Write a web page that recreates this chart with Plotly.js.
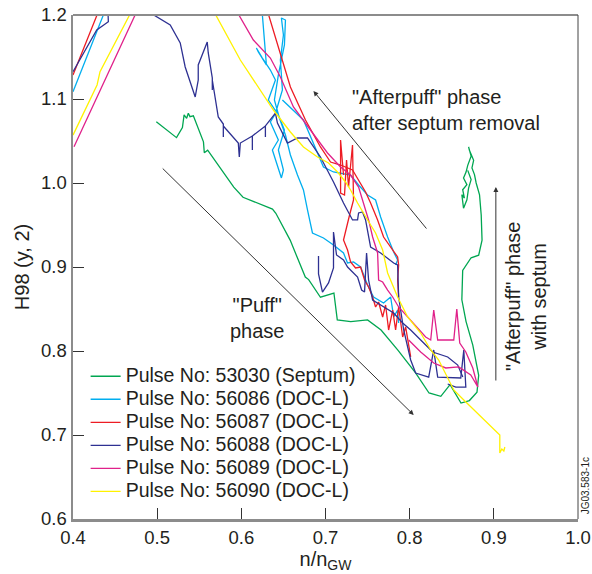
<!DOCTYPE html>
<html>
<head>
<meta charset="utf-8">
<script src="https://cdn.plot.ly/plotly-3.0.1.min.js"></script>
<style>html,body{margin:0;padding:0;background:#fff;}#chart{width:592px;height:574px;}</style>
</head>
<body>
<div id="chart"></div>
<script>
// Legend labels
const seriesNames = [
  "Pulse No: 53030 (Septum)",
  "Pulse No: 56086 (DOC-L)",
  "Pulse No: 56087 (DOC-L)",
  "Pulse No: 56088 (DOC-L)",
  "Pulse No: 56089 (DOC-L)",
  "Pulse No: 56090 (DOC-L)"
];
const seriesColors = ["#00a651", "#00aeef", "#ed1c24", "#2e3192", "#e0218a", "#fff200"];

// Pulse 53030 (Septum)
const p53030_x = [0.499,0.523,0.530,0.532,0.535,0.537,0.539,0.543,0.555,0.556,0.560,0.591,0.602,0.637,0.641,0.658,0.676,0.680,0.694,0.710,0.714,0.730,0.750,0.766,0.786,0.807,0.823,0.837,0.848,0.861,0.871,0.880,0.882,0.875,0.867,0.862,0.863,0.873,0.882,0.886,0.885,0.883,0.879,0.877,0.874,0.876,0.871,0.870,0.873,0.869,0.867,0.864,0.868,0.863,0.865,0.862,0.864,0.868,0.870,0.873,0.869];
const p53030_y = [1.073,1.054,1.066,1.081,1.077,1.083,1.079,1.080,1.049,1.036,1.039,0.995,0.983,0.969,0.964,0.932,0.888,0.885,0.864,0.869,0.837,0.835,0.837,0.825,0.801,0.774,0.750,0.746,0.760,0.738,0.741,0.751,0.771,0.807,0.835,0.861,0.896,0.911,0.914,0.932,0.962,0.986,1.000,1.010,1.018,1.027,1.039,1.043,1.032,1.021,1.013,1.006,0.998,0.992,0.982,0.986,0.970,0.980,0.994,1.004,1.015];

// Pulse 56086
const p56086_x = [0.4,0.4361,0.4417,null,0.625,0.625,0.6274,0.6298,0.6202,0.6179,0.625,0.6345,0.6405,0.6321,0.6417,0.6345,0.644,0.6369,0.6476,0.65,0.644,0.6512,0.6417,0.6488,0.6464,0.65,0.6476,0.6524,0.6512,0.644,0.6393,0.6452,0.6524,0.6583,0.6667,0.6738,0.6786,0.6845,0.6976,0.7095,0.7214,0.7262,0.7333,0.7417,0.75,0.7571,0.769,0.7774,0.781,0.7857,0.7869,null,0.6488,0.6738,0.6976,0.7095,0.7298,0.7393,0.75,0.7595,0.7655,0.7738,0.781,0.7857,0.7833];
const p56086_y = [1.1087,1.2,1.2143,null,1.206,1.2,1.1702,1.1405,1.156,1.1607,1.1488,1.1345,1.1226,1.0988,1.0845,1.0726,1.0512,1.0393,1.006,1.0155,1.0393,1.0631,1.0869,1.1107,1.1464,1.1762,1.1964,1.194,1.1643,1.1286,1.0988,1.0774,1.0571,1.0333,1.0095,0.9917,0.9679,0.9405,0.9345,0.9262,0.9167,0.9048,0.906,0.9,0.8786,0.8643,0.8571,0.8643,0.8405,0.8488,0.8333,null,1.0988,1.075,1.019,1.0131,1.0095,0.9976,0.9857,0.9798,0.9595,0.9357,0.9179,0.9083,0.9024];

// Pulse 56087
const p56087_x = [0.4,0.4286,0.4357,0.53,0.6298,0.6321,0.6464,0.6583,0.6762,0.694,0.706,0.7179,0.7321,0.7393,0.7476,0.7536,0.7619,0.769,0.7774,0.7857,0.7869,0.7857,0.7869,null,0.7214,0.7179,0.7179,0.7226,0.725,0.7274,0.7321,0.7333,0.7286,0.7238,0.7214,0.7262,0.7298,0.7357,0.7417,0.7464,0.7512,0.756,0.7595,0.7631,0.7679,0.7714,0.775,0.7798,0.7833,0.7869,0.7917,0.7952,0.7988,0.8012];
const p56087_y = [1.1286,1.2,1.2179,1.4,1.2095,1.2012,1.1548,1.1143,1.075,1.0429,1.025,1.0214,1.0155,1.0036,0.9893,0.9762,0.956,0.9357,0.9238,0.9119,0.9024,0.8845,0.8643,null,1.0095,1.0512,0.9881,0.9857,1.0274,0.9952,1.0452,0.9798,0.9619,0.944,0.9321,0.9202,0.906,0.8988,0.9,0.8845,0.8762,0.8643,0.8524,0.8583,0.8405,0.8548,0.825,0.8488,0.825,0.8524,0.8167,0.8286,0.8048,0.7929];

// Pulse 56088
const p56088_x = [0.4,0.4282,0.442,0.4417,0.4429,0.47,0.4917,0.494,0.5155,0.5274,0.5333,0.5452,0.5488,0.5488,0.5595,0.5607,0.5655,0.5655,0.5655,0.5726,0.5786,0.5786,0.5786,0.5964,0.5976,0.5988,0.6131,0.6131,0.6131,0.6286,0.6286,0.6286,0.6405,0.6429,0.6548,0.6667,0.6786,0.694,0.7095,0.7214,0.7321,0.7381,0.7393,0.744,0.7476,0.7512,0.7536,0.7655,0.781,0.7857,0.7869,0.7929,0.8012,0.8071,0.8226,0.8286,0.8333,0.8607,0.8643,0.8667,0.8548,0.8452,null,0.6917,0.6917,0.6964,0.7036,0.7095,0.7095,0.7131,0.7214,0.7262,0.7381,0.7429,0.7464,0.7488,0.7512,0.756,0.769,0.781,0.7917,0.8012,0.8167,0.8274,0.8452,0.8571,0.8631];
const p56088_y = [1.1325,1.1821,1.192,1.2,1.2119,1.28,1.2083,1.2012,1.1881,1.1667,1.1381,1.1024,1.1226,1.1405,1.1679,1.1548,1.125,1.1107,1.1226,1.0786,1.0702,1.0548,1.0679,1.0476,1.031,1.0476,1.056,1.0393,1.056,1.0679,1.0548,1.0679,1.0833,1.0714,1.0476,1.0536,1.0536,1.031,1.0012,0.9762,0.956,0.956,0.9643,0.9655,0.956,0.9357,0.9238,0.9167,0.9048,0.9024,0.8643,0.825,0.7893,0.7738,0.769,0.8012,0.769,0.7679,0.8012,0.7571,0.7571,0.7607,null,0.9131,0.8917,0.8702,0.881,0.8988,0.9417,0.9143,0.9083,0.9,0.8881,0.8726,0.8702,0.9167,0.8845,0.8607,0.8524,0.8452,0.8333,0.825,0.8095,0.7988,0.7929,0.7833,0.769];

// Pulse 56089
const p56089_x = [0.4012,0.4738,0.4798,0.53,0.593,0.5964,0.6143,0.6345,0.6464,0.6619,0.6821,0.7024,0.7179,0.7298,0.7393,0.7452,0.7512,0.756,0.7619,0.7631,0.7679,0.7738,0.7798,0.7869,0.7976,0.8095,0.819,0.825,0.8286,0.8333,0.8524,0.856,0.8595,0.8667,0.875,0.881,0.8726,0.8583,0.8429,0.8286,0.8131,0.7988];
const p56089_y = [1.0432,1.2,1.213,1.35,1.21,1.2012,1.1702,1.1488,1.1262,1.0905,1.0631,1.0357,1.019,1.0095,0.9952,0.9762,0.956,0.9357,0.9167,0.8845,0.8821,0.8726,0.8643,0.8524,0.8405,0.8286,0.8167,0.8131,0.8488,0.8131,0.8131,0.85,0.8095,0.7988,0.7798,0.7571,0.7714,0.781,0.7798,0.7857,0.7988,0.8131];

// Pulse 56090
const p56090_x = [0.400,0.4286,0.4321,0.4679,0.475,0.52,0.566,0.569,0.5988,0.6143,0.6381,0.6583,0.6738,0.6905,0.7036,0.7143,0.7238,0.7298,0.7381,0.750,0.7595,0.7679,0.7738,0.7857,0.7976,0.8131,0.825,0.8345,0.8524,0.8643,0.9071,0.9071,0.9095,0.9119,0.9131];
const p56090_y = [1.057,1.1167,1.1325,1.2,1.215,1.35,1.21,1.2012,1.1464,1.1226,1.0869,1.0607,1.0429,1.031,1.0238,1.0131,1.0012,0.9917,0.9762,0.956,0.9405,0.9202,0.8929,0.8643,0.8405,0.8214,0.8012,0.7893,0.7536,0.7417,0.700,0.6786,0.6833,0.681,0.6857];

const xs = [p53030_x, p56086_x, p56087_x, p56088_x, p56089_x, p56090_x];
const ys = [p53030_y, p56086_y, p56087_y, p56088_y, p56089_y, p56090_y];

const FONT = "Liberation Sans, Arial, sans-serif";
const TXT = "#231f20";

const traces = seriesNames.map((n, i) => ({
  type: "scatter", mode: "lines",
  name: '<span style="font-size:19.5px">' + n + '</span>',
  x: xs[i], y: ys[i], connectgaps: false,
  line: {color: seriesColors[i], width: 1.3},
  hoverinfo: "skip"
}));

const arrowStyle = {showarrow: true, text: "", arrowhead: 2, arrowsize: 1, arrowwidth: 1, arrowcolor: "#333", axref: "x", ayref: "y", xref: "x", yref: "y"};

const layout = {
  width: 592, height: 574,
  margin: {l: 73, r: 14, t: 15, b: 55},
  paper_bgcolor: "#fff", plot_bgcolor: "#fff",
  font: {family: FONT, size: 18, color: TXT},
  showlegend: true,
  legend: {x: 0.025, y: 0.316, xanchor: "left", yanchor: "top", bgcolor: "rgba(0,0,0,0)",
           font: {family: FONT, size: 15.4, color: TXT}, tracegroupgap: 0, itemwidth: 30},
  xaxis: {range: [0.4, 1.0], tick0: 0.4, dtick: 0.1, tickformat: ".1f",
          ticks: "inside", ticklen: 11, tickwidth: 1, tickcolor: "#333",
          showline: true, linecolor: "#8c8c8c", linewidth: 2.5,
          showgrid: false, zeroline: false,
          tickfont: {family: FONT, size: 18.5, color: TXT},
          title: {text: "n/n<sub>GW</sub>", font: {family: FONT, size: 20, color: TXT}, standoff: 2}},
  yaxis: {range: [0.6, 1.2], tick0: 0.6, dtick: 0.1, tickformat: ".1f",
          ticks: "inside", ticklen: 11, tickwidth: 1, tickcolor: "#333",
          showline: true, linecolor: "#8c8c8c", linewidth: 2.5,
          showgrid: false, zeroline: false,
          tickfont: {family: FONT, size: 18.5, color: TXT},
          title: {text: "H98 (y, 2)", font: {family: FONT, size: 20, color: TXT}, standoff: 6}},
  shapes: [
    {type: "line", xref: "paper", yref: "paper", x0: 0, x1: 1, y0: 1, y1: 1, line: {color: "#8c8c8c", width: 2}},
    {type: "line", xref: "paper", yref: "paper", x0: 1, x1: 1, y0: 0, y1: 1, line: {color: "#444", width: 1}}
  ],
  annotations: [
    Object.assign({}, arrowStyle, {x: 0.6857, y: 1.1095, ax: 0.8214, ay: 0.944}),
    Object.assign({}, arrowStyle, {x: 0.8048, y: 0.7238, ax: 0.5048, ay: 1.019}),
    Object.assign({}, arrowStyle, {x: 0.9024, y: 0.9952, ax: 0.9024, ay: 0.7631}),
    {xref: "x", yref: "y", x: 0.7286, y: 1.087, xanchor: "left", yanchor: "middle", align: "left",
     showarrow: false, text: "\"Afterpuff\" phase<br>after septum removal", font: {family: FONT, size: 20, color: TXT}},
    {xref: "x", yref: "y", x: 0.619, y: 0.8393, xanchor: "center", yanchor: "middle", align: "center",
     showarrow: false, text: "\"Puff\"<br>phase", font: {family: FONT, size: 20, color: TXT}},
    {xref: "x", yref: "y", x: 0.939, y: 0.865, xanchor: "center", yanchor: "middle", align: "center",
     showarrow: false, textangle: -90, text: "\"Afterpuff\" phase<br>with septum", font: {family: FONT, size: 20, color: TXT}},
    {xref: "paper", yref: "paper", x: 1.014, y: 0.065, xanchor: "center", yanchor: "middle",
     showarrow: false, textangle: -90, text: "JG03.583-1c", font: {family: FONT, size: 10, color: TXT}}
  ]
};

Plotly.newPlot("chart", traces, layout, {displayModeBar: false, staticPlot: true});
</script>
</body>
</html>
